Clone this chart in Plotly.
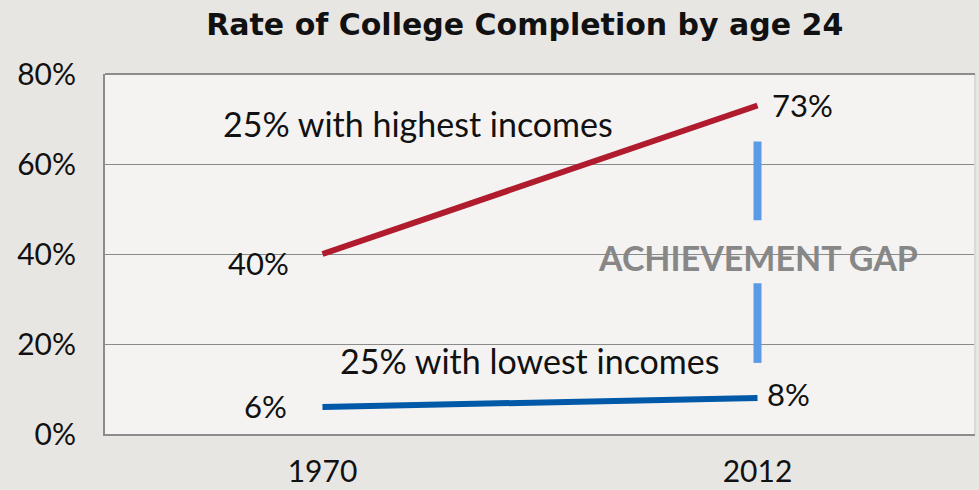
import plotly.graph_objects as go

years = ["1970", "2012"]
highest = [40, 73]
lowest = [6, 8]
gap_upper = [65, 47.5]
gap_lower = [33.5, 15.8]
ytick_vals = [0, 20, 40, 60, 80]
ytick_text = ["0%", "20%", "40%", "60%", "80%"]

xs = list(range(len(years)))
FONT = "Lato, 'Open Sans', sans-serif"
RED = "#b01c2e"
BLUE = "#0058a8"
GAPBLUE = "#5b9be6"

fig = go.Figure()
fig.add_trace(go.Scatter(x=xs, y=highest, mode="lines",
                         line=dict(color=RED, width=6), hoverinfo="skip"))
fig.add_trace(go.Scatter(x=xs, y=lowest, mode="lines",
                         line=dict(color=BLUE, width=6), hoverinfo="skip"))
for seg in (gap_upper, gap_lower):
    fig.add_trace(go.Scatter(x=[xs[1], xs[1]], y=seg, mode="lines",
                             line=dict(color=GAPBLUE, width=8), hoverinfo="skip"))

numf = dict(family=FONT, size=31, color="#111111")
txtf = dict(family=FONT, size=34, color="#111111")
ann = [
    dict(x=xs[0], y=highest[0], text=f"{highest[0]}%", xshift=-64, yshift=-9, font=numf),
    dict(x=xs[1], y=highest[1], text=f"{highest[1]}%", xshift=45, yshift=1, font=numf),
    dict(x=xs[0], y=lowest[0], text=f"{lowest[0]}%", xshift=-57, yshift=1, font=numf),
    dict(x=xs[1], y=lowest[1], text=f"{lowest[1]}%", xshift=31, yshift=4, font=numf),
    dict(x=0.22, y=69, text="25% with highest incomes", font=txtf),
    dict(x=0.477, y=16.4, text="25% with lowest incomes", font=txtf),
]
annotations = []
for a in ann:
    a.update(xref="x", yref="y", showarrow=False)
    annotations.append(a)
annotations.append(dict(x=xs[1], y=39.3, xref="x", yref="y", showarrow=False,
                        text="<b>ACHIEVEMENT GAP</b>",
                        font=dict(family=FONT, size=34, color="#878787")))

fig.update_layout(
    width=979, height=490,
    margin=dict(l=105, r=4, t=74, b=56),
    paper_bgcolor="#e8e6e3",
    plot_bgcolor="#f4f3f1",
    showlegend=False,
    title=dict(text="<b>Rate of College Completion by age 24</b>",
               x=0.536, xanchor="center", y=1 - 24 / 490, yanchor="middle",
               font=dict(family="'DejaVu Sans', sans-serif", size=30, color="#111111")),
    xaxis=dict(range=[-0.5, 1.5], tickvals=xs, ticktext=years, automargin=False,
               showgrid=False, zeroline=False, showline=True,
               linecolor="#8c8c8c", linewidth=2, mirror=False,
               ticks="", ticklabelstandoff=10,
               tickfont=dict(family=FONT, size=30, color="#111111")),
    yaxis=dict(range=[0, 80], tickvals=ytick_vals, ticktext=ytick_text, automargin=False,
               showgrid=True, gridcolor="#8a8a8a", gridwidth=1.3,
               zeroline=False, showline=True, linecolor="#8c8c8c", linewidth=2,
               ticks="", ticklabelstandoff=21,
               tickfont=dict(family=FONT, size=30, color="#111111")),
    annotations=annotations,
)
fig.add_shape(type="line", xref="paper", yref="paper", x0=1, x1=1, y0=0, y1=1,
              line=dict(color="#dcdad6", width=2))
fig.add_shape(type="line", xref="paper", yref="paper", x0=0, x1=1, y0=1, y1=1,
              line=dict(color="#8c8c8c", width=2))

fig.write_html("out.html", config={"displayModeBar": False},
               post_script="document.body.style.margin='0';")
